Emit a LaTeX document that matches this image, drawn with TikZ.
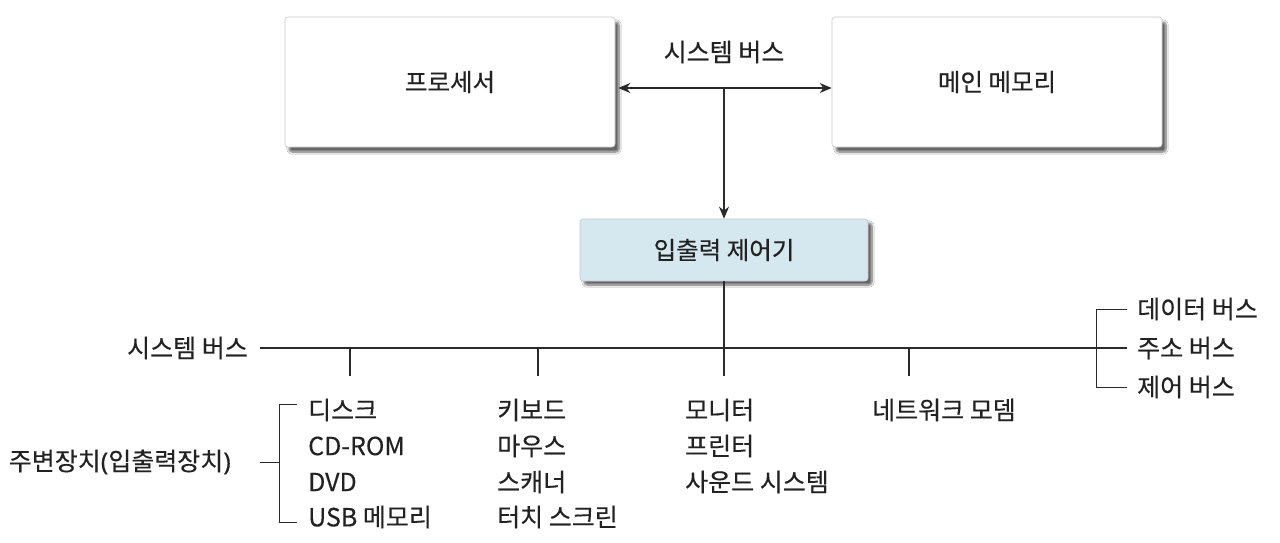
\documentclass[tikz,border=0pt]{standalone}
\usepackage{fontspec}
\setmainfont{Noto Sans CJK KR}[FakeBold=0.35]
\newfontfamily\parfont{Noto Sans}[FakeBold=0.35]
\usetikzlibrary{arrows.meta,shadows.blur}
\definecolor{ln}{HTML}{2A2A2A}
\definecolor{txt}{HTML}{222222}
\definecolor{iofill}{HTML}{D5E8EF}
\definecolor{bord}{HTML}{C8C8C8}
\begin{document}
\begin{tikzpicture}[x=1pt,y=-1pt,
  lbl/.style={inner sep=0pt,text=txt,font=\fontsize{25}{29}\selectfont},
  bigbox/.style={draw=bord,line width=0.6pt,fill=white,rounded corners=3pt,
    minimum width=330pt,minimum height=130pt,inner sep=0pt,
    blur shadow={shadow xshift=4pt,shadow yshift=-5pt,shadow blur steps=8,shadow opacity=60},
    text=txt,font=\fontsize{24.5}{28}\selectfont},
  iobox/.style={draw=bord,line width=0.6pt,fill=iofill,rounded corners=3pt,
    minimum width=288pt,minimum height=62pt,inner sep=0pt,
    blur shadow={shadow xshift=4pt,shadow yshift=-4pt,shadow blur steps=8,shadow opacity=60},
    text=txt,font=\fontsize{24.5}{28}\selectfont},
  conn/.style={draw=ln,line width=1.2pt},
  arr/.style={conn,-{Stealth[length=12pt,width=10pt]}},
  darr/.style={conn,{Stealth[length=12pt,width=10pt]}-{Stealth[length=12pt,width=10pt]}},
  brk/.style={draw=ln,line width=1pt}]
\useasboundingbox (0,0) rectangle (1280,543);
\fill[white] (0,0) rectangle (1280,543);

% top boxes
\node[bigbox] (proc) at (450,82) {프로세서};
\node[bigbox] (mem) at (997,82) {메인 메모리};
\node[iobox] (io) at (724,250) {입출력 제어기};

\node[lbl] (sysbus) at (724,52) {시스템 버스};
\coordinate (junc) at (724,88);
\draw[darr] (proc.east |- junc) ++(3,0) -- (mem.west |- junc);
\draw[arr] (junc) -- (io.north);

% lower system bus
\node[lbl,anchor=east] (sysbus2) at (248,348) {시스템 버스};
\coordinate (busL) at (260,348);
\coordinate (busR) at (1127,348);
\draw[conn] (busL) -- (busR);
\coordinate (bio) at (724,348);
\draw[conn] (io.south) -- (bio);

\coordinate (t1) at (350,348);
\coordinate (t2) at (538,348);
\coordinate (t4) at (909,348);
\coordinate (t1e) at (350,376);
\coordinate (t2e) at (538,376);
\coordinate (t3e) at (724,376);
\coordinate (t4e) at (909,376);
\draw[conn] (t1) -- (t1e);
\draw[conn] (t2) -- (t2e);
\draw[conn] (bio) -- (t3e);
\draw[conn] (t4) -- (t4e);

% right bracket
\node[lbl,anchor=west] (dbus) at (1137,309) {데이터 버스};
\node[lbl,anchor=west] (abus) at (1137,348) {주소 버스};
\node[lbl,anchor=west] (cbus) at (1137,387) {제어 버스};
\coordinate (rbT) at (1096,309);
\coordinate (rbB) at (1096,387);
\coordinate (rbTe) at (1127,309);
\coordinate (rbBe) at (1127,387);
\draw[brk] (rbTe) -- (rbT) -- (rbB) -- (rbBe);

% peripherals
\node[lbl,anchor=east] (periph) at (231,462) {주변장치{\parfont(}입출력장치{\parfont)}};
\coordinate (lbS) at (260,462);
\coordinate (lbM) at (279,462);
\coordinate (lbT) at (279,404);
\coordinate (lbB) at (279,522);
\coordinate (lbTe) at (297,404);
\coordinate (lbBe) at (297,522);
\draw[brk] (lbS) -- (lbM);
\draw[brk] (lbTe) -- (lbT) -- (lbB) -- (lbBe);

\node[lbl,anchor=west] (c1a) at (308,410) {디스크};
\node[lbl,anchor=west] (c1b) at (308,446) {CD-ROM};
\node[lbl,anchor=west] (c1c) at (308,482) {DVD};
\node[lbl,anchor=west] (c1d) at (308,517) {USB 메모리};

\node[lbl,anchor=west] (c2a) at (497,410) {키보드};
\node[lbl,anchor=west] (c2b) at (497,446) {마우스};
\node[lbl,anchor=west] (c2c) at (497,482) {스캐너};
\node[lbl,anchor=west] (c2d) at (497,517) {터치 스크린};

\node[lbl,anchor=west] (c3a) at (685,410) {모니터};
\node[lbl,anchor=west] (c3b) at (685,446) {프린터};
\node[lbl,anchor=west] (c3c) at (685,482) {사운드 시스템};

\node[lbl,anchor=west] (c4a) at (872,410) {네트워크 모뎀};
\end{tikzpicture}
\end{document}
